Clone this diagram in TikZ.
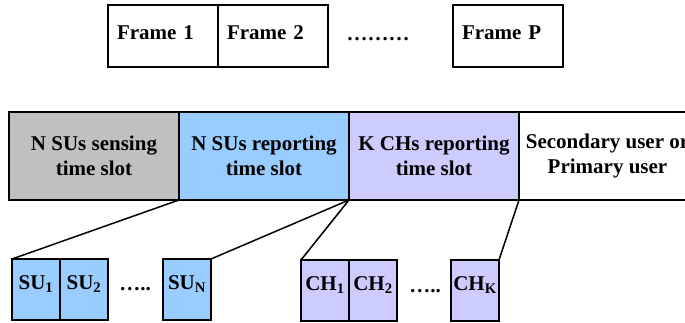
\documentclass[tikz,border=0pt]{standalone}
\usepackage{fontspec}
\setmainfont{Liberation Serif}
\usetikzlibrary{positioning}
\definecolor{slotgray}{RGB}{192,192,192}
\definecolor{slotblue}{RGB}{153,204,255}
\definecolor{slotpurple}{RGB}{204,204,255}

\begin{document}
\begin{tikzpicture}[x=1pt, y=-1pt,
  every node/.style={font=\fontsize{21}{25}\selectfont\bfseries, inner sep=0pt, outer sep=0pt},
  framebox/.style={draw, line width=1.3pt, minimum height=62pt, text width=92pt, inner xsep=9pt, align=left, text height=14pt, text depth=7pt},
  slot/.style={draw, line width=1.8pt, minimum height=88pt, minimum width=170pt, align=center},
  subbox/.style={draw, line width=1.8pt, minimum height=61pt, minimum width=48pt, text height=14pt, text depth=14pt},
  link/.style={line width=1.5pt}]
  \useasboundingbox (0,0) rectangle (685,323);

  % frames
  \node[framebox, anchor=north west] (f1) at (108,5) {Frame 1};
  \node[framebox, right=0pt of f1] (f2) {Frame 2};
  \node[anchor=base] (fdots) at (378,41) {………};
  \node[framebox, anchor=north west] (fP) at (453,5) {Frame P};

  % time slots of one frame
  \node[slot, fill=slotgray, anchor=north west] (sense) at (9,112) {N SUs sensing\\time slot};
  \node[slot, fill=slotblue, right=0pt of sense] (surep) {N SUs reporting\\time slot};
  \node[slot, fill=slotpurple, right=0pt of surep] (chrep) {K CHs reporting\\time slot};
  \node[slot, minimum width=177pt, right=0pt of chrep] (user) {Secondary user or\\Primary user};

  % reporting sub-slots
  \node[subbox, fill=slotblue, anchor=north west] (su1) at (12,259) {SU\textsubscript{1}};
  \node[subbox, fill=slotblue, right=0pt of su1] (su2) {SU\textsubscript{2}};
  \node[anchor=base] (sudots) at (135,290) {…..};
  \node[subbox, fill=slotblue, anchor=north west] (suN) at (163,259) {SU\textsubscript{N}};

  \node[subbox, fill=slotpurple, anchor=north west] (ch1) at (301,260) {CH\textsubscript{1}};
  \node[subbox, fill=slotpurple, right=0pt of ch1] (ch2) {CH\textsubscript{2}};
  \node[anchor=base] (chdots) at (425,292) {…..};
  \node[subbox, fill=slotpurple, anchor=north west] (chK) at (451,260) {CH\textsubscript{K}};

  \draw[link] (surep.south west) -- (su1.north west);
  \draw[link] (chrep.south west) -- (suN.north east);
  \draw[link] (chrep.south west) -- (ch1.north west);
  \draw[link] (user.south west) -- (chK.north east);
\end{tikzpicture}
\end{document}
